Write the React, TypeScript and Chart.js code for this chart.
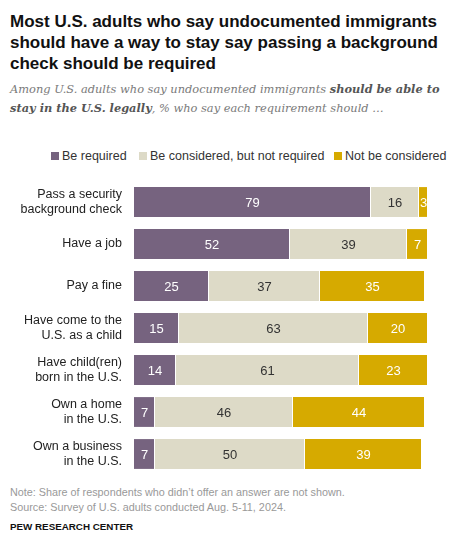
import React, { useEffect, useRef } from "react";
import { Chart, registerables } from "chart.js";

Chart.register(...registerables);

const categories: string[][] = [
  ["Pass a security", "background check"],
  ["Have a job"],
  ["Pay a fine"],
  ["Have come to the", "U.S. as a child"],
  ["Have child(ren)", "born in the U.S."],
  ["Own a home", "in the U.S."],
  ["Own a business", "in the U.S."],
];
const beRequired = [79, 52, 25, 15, 14, 7, 7];
const beConsidered = [16, 39, 37, 63, 61, 46, 50];
const notConsidered = [3, 7, 35, 20, 23, 44, 39];
const seriesNames = ["Be required", "Be considered, but not required", "Not be considered"];
const seriesColors = ["#76637f", "#dddac7", "#d6aa00"];
const labelColors = ["#ffffff", "#333333", "#ffffff"];

const FONT = "'Liberation Sans', Arial, sans-serif";

const valueLabels = {
  id: "valueLabels",
  afterDatasetsDraw(chart: any) {
    const ctx = chart.ctx;
    ctx.save();
    ctx.font = `13px ${FONT}`;
    ctx.textAlign = "center";
    ctx.textBaseline = "middle";
    chart.data.datasets.forEach((ds: any, di: number) => {
      const meta = chart.getDatasetMeta(di);
      meta.data.forEach((bar: any, i: number) => {
        const v = ds.data[i];
        const x = (bar.base + bar.x) / 2;
        ctx.fillStyle = labelColors[di];
        ctx.fillText(String(v), x, bar.y + 1);
      });
    });
    ctx.restore();
  },
};

export default function App() {
  const ref = useRef<HTMLCanvasElement>(null);
  useEffect(() => {
    document.body.style.margin = "0";
    const data = [beRequired, beConsidered, notConsidered];
    const chart = new Chart(ref.current!, {
      type: "bar",
      data: {
        labels: categories,
        datasets: data.map((d, i) => ({
          label: seriesNames[i],
          data: d,
          backgroundColor: seriesColors[i],
          borderColor: "#ffffff",
          borderWidth: { left: 0, right: 1, top: 0, bottom: 0 },
          borderSkipped: false,
          barPercentage: 0.71,
          categoryPercentage: 1,
        })),
      },
      options: {
        indexAxis: "y",
        animation: false,
        responsive: false,
        maintainAspectRatio: false,
        layout: { padding: { top: 41, bottom: 5, right: 25, left: 0 } },
        plugins: {
          legend: { display: false },
          tooltip: { enabled: false },
        },
        scales: {
          x: { stacked: true, min: 0, max: 100, display: false },
          y: {
            stacked: true,
            grid: { display: false, drawTicks: false },
            border: { display: false },
            ticks: {
              color: "#222",
              font: { family: FONT, size: 12.5 },
              padding: 12,
            },
            afterFit(scale: any) {
              scale.width = 134;
              scale.paddingTop = 0;
              scale.paddingBottom = 0;
            },
          },
        },
      },
      plugins: [valueLabels],
    } as any);
    return () => chart.destroy();
  }, []);

  const legendItem = (i: number, left: number) => (
    <div
      key={i}
      style={{ position: "absolute", left, top: 149, display: "flex", alignItems: "center", whiteSpace: "nowrap" }}
    >
      <span style={{ width: 8, height: 8, background: seriesColors[i], display: "inline-block", marginRight: 3 }} />
      <span style={{ fontFamily: FONT, fontSize: 12.5, color: "#333" }}>{seriesNames[i]}</span>
    </div>
  );

  return (
    <div style={{ position: "relative", width: 459, height: 544, background: "#fff" }}>
      <div
        style={{
          position: "absolute",
          left: 10,
          top: 11,
          fontFamily: FONT,
          fontWeight: "bold",
          fontSize: 17,
          lineHeight: "21px",
          color: "#111",
          whiteSpace: "nowrap",
        }}
      >
        Most U.S. adults who say undocumented immigrants
        <br />
        should have a way to stay say passing a background
        <br />
        check should be required
      </div>
      <div
        style={{
          position: "absolute",
          left: 10,
          top: 80,
          fontFamily: "'DejaVu Serif', serif",
          fontStyle: "italic",
          fontSize: 11.4,
          lineHeight: "19px",
          color: "#7a7a7a",
          whiteSpace: "nowrap",
        }}
      >
        Among U.S. adults who say undocumented immigrants <b style={{ color: "#555" }}>should be able to</b>
        <br />
        <b style={{ color: "#555" }}>stay in the U.S. legally</b>, % who say each requirement should …
      </div>
      {legendItem(0, 51)}
      {legendItem(1, 139)}
      {legendItem(2, 334)}
      <div style={{ position: "absolute", left: 0, top: 140, width: 459, height: 340 }}>
        <canvas ref={ref} width={459} height={340} style={{ width: 459, height: 340 }} />
      </div>
      <div
        style={{
          position: "absolute",
          left: 10,
          top: 485,
          fontFamily: FONT,
          fontSize: 10.8,
          lineHeight: "15px",
          color: "#999",
          whiteSpace: "nowrap",
        }}
      >
        Note: Share of respondents who didn’t offer an answer are not shown.
        <br />
        Source: Survey of U.S. adults conducted Aug. 5-11, 2024.
      </div>
      <div
        style={{
          position: "absolute",
          left: 10,
          top: 521,
          fontFamily: FONT,
          fontWeight: "bold",
          fontSize: 9.8,
          color: "#111",
          whiteSpace: "nowrap",
        }}
      >
        PEW RESEARCH CENTER
      </div>
    </div>
  );
}
